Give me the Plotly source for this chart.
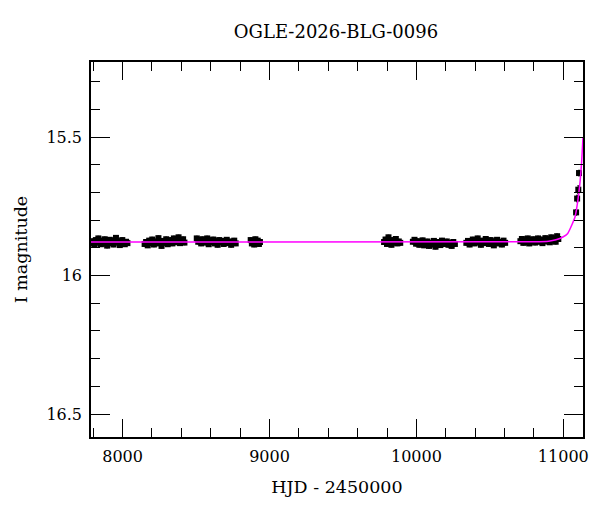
import plotly.graph_objects as go

title_text = "OGLE-2026-BLG-0096"
x_title = "HJD - 2450000"
y_title = "I magnitude"

# observing seasons (HJD - 2450000, I mag)
x1 = [7792, 7801, 7809, 7818, 7826, 7835, 7843, 7852, 7860, 7869, 7878, 7886, 7895, 7903, 7912, 7920, 7929, 7938, 7946, 7955, 7964, 7972, 7981, 7990, 7998, 8007, 8015, 8024, 8033]
m1 = [15.884, 15.876, 15.889, 15.872, 15.881, 15.866, 15.878, 15.887, 15.874, 15.882, 15.869, 15.885, 15.892, 15.877, 15.871, 15.883, 15.879, 15.888, 15.873, 15.864, 15.881, 15.876, 15.890, 15.884, 15.872, 15.880, 15.887, 15.878, 15.883]
x2 = [8150, 8160, 8171, 8181, 8192, 8202, 8213, 8223, 8234, 8244, 8255, 8265, 8276, 8286, 8297, 8307, 8318, 8328, 8339, 8349, 8360, 8370, 8381, 8391, 8402, 8412, 8421]
m2 = [15.886, 15.879, 15.891, 15.874, 15.883, 15.870, 15.888, 15.877, 15.884, 15.865, 15.880, 15.893, 15.875, 15.882, 15.869, 15.887, 15.878, 15.872, 15.884, 15.866, 15.880, 15.874, 15.862, 15.883, 15.876, 15.869, 15.881]
x3 = [8505, 8515, 8525, 8535, 8545, 8556, 8566, 8576, 8586, 8596, 8607, 8617, 8627, 8637, 8647, 8658, 8668, 8678, 8688, 8698, 8709, 8719, 8729, 8739, 8749, 8760, 8770]
m3 = [15.866, 15.878, 15.871, 15.884, 15.869, 15.875, 15.881, 15.866, 15.887, 15.873, 15.879, 15.870, 15.884, 15.876, 15.889, 15.872, 15.880, 15.875, 15.886, 15.878, 15.871, 15.883, 15.877, 15.889, 15.880, 15.874, 15.884]
x4 = [8872, 8880, 8888, 8896, 8904, 8912, 8920, 8928, 8935]
m4 = [15.872, 15.884, 15.876, 15.888, 15.869, 15.880, 15.874, 15.886, 15.879]
x5 = [9780, 9790, 9800, 9810, 9820, 9830, 9840, 9850, 9860, 9870, 9880, 9890]
m5 = [15.879, 15.870, 15.886, 15.862, 15.876, 15.889, 15.872, 15.881, 15.868, 15.884, 15.877, 15.882]
x6 = [9976, 9987, 9998, 10009, 10020, 10031, 10042, 10053, 10064, 10075, 10086, 10097, 10108, 10119, 10130, 10141, 10152, 10163, 10174, 10185, 10196, 10207, 10218, 10229, 10240, 10251, 10262]
m6 = [15.878, 15.871, 15.885, 15.876, 15.889, 15.880, 15.873, 15.891, 15.884, 15.877, 15.893, 15.882, 15.888, 15.875, 15.896, 15.884, 15.879, 15.890, 15.874, 15.886, 15.881, 15.877, 15.889, 15.883, 15.893, 15.879, 15.886]
x7 = [10340, 10351, 10362, 10373, 10384, 10395, 10406, 10417, 10428, 10439, 10450, 10461, 10472, 10483, 10494, 10505, 10516, 10527, 10538, 10549, 10560, 10571, 10582, 10593, 10604]
m7 = [15.882, 15.875, 15.888, 15.879, 15.870, 15.884, 15.877, 15.866, 15.881, 15.889, 15.874, 15.883, 15.868, 15.879, 15.886, 15.872, 15.880, 15.891, 15.876, 15.871, 15.884, 15.879, 15.888, 15.874, 15.882]
x8 = [10708, 10718, 10728, 10738, 10748, 10758, 10768, 10778, 10788, 10798, 10808, 10818, 10828, 10838, 10848, 10858, 10868, 10878, 10888, 10898, 10908, 10918, 10928, 10938, 10948, 10958, 10966]
m8 = [15.876, 15.868, 15.882, 15.873, 15.879, 15.866, 15.884, 15.871, 15.877, 15.869, 15.881, 15.874, 15.866, 15.878, 15.870, 15.883, 15.873, 15.865, 15.877, 15.869, 15.880, 15.862, 15.874, 15.866, 15.878, 15.858, 15.868]
x9 = [11087, 11094, 11102, 11107]
m9 = [15.772, 15.722, 15.690, 15.630]
err_base = 0.008
e9 = [0.010, 0.012, 0.014, 0.010]

# model light curve
model_x = [7785, 10800, 10900, 10950, 11000, 11030, 11060, 11080, 11100, 11115, 11125, 11134]
model_m = [15.879, 15.878, 15.876, 15.871, 15.860, 15.848, 15.815, 15.788, 15.725, 15.656, 15.587, 15.500]

x_range = [7785, 11134]
y_range = [16.583, 15.229]
x_ticks = [8000, 9000, 10000, 11000]
x_ticklabels = ["8000", "9000", "10000", "11000"]
y_ticks = [15.5, 16, 16.5]
y_ticklabels = ["15.5", "16", "16.5"]

xs = x1 + x2 + x3 + x4 + x5 + x6 + x7 + x8
ms = m1 + m2 + m3 + m4 + m5 + m6 + m7 + m8
es = [err_base] * len(xs)
xs = xs + x9
ms = ms + m9
es = es + e9

font_family = "DejaVu Serif"

fig = go.Figure()
fig.add_trace(go.Scatter(
    x=xs, y=ms, mode="markers",
    marker=dict(symbol="square", size=6, color="black"),
    error_y=dict(type="data", array=es, visible=True, color="black", thickness=1, width=1),
    showlegend=False, hoverinfo="skip"))
fig.add_trace(go.Scatter(
    x=model_x, y=model_m, mode="lines",
    line=dict(color="#ff00ff", width=1.5, shape="spline", smoothing=0.6),
    showlegend=False, hoverinfo="skip"))

axis_common = dict(
    showgrid=False, zeroline=False, showline=True, linecolor="black", linewidth=1.5,
    mirror="ticks", ticks="inside", tickcolor="black", tickwidth=1,
    tickfont=dict(family=font_family, size=16, color="black"),
    ticklabelstandoff=4,
)

fig.update_xaxes(
    range=x_range, tickvals=x_ticks, ticktext=x_ticklabels, ticklen=18,
    title=dict(text=x_title, font=dict(family=font_family, size=17.5, color="black"), standoff=16),
    minor=dict(dtick=200, tick0=0, ticklen=9, tickcolor="black", ticks="inside", showgrid=False),
    **axis_common)
fig.update_yaxes(
    range=y_range, tickvals=y_ticks, ticktext=y_ticklabels, ticklen=19,
    title=dict(text=y_title, font=dict(family=font_family, size=17.5, color="black"), standoff=14),
    minor=dict(dtick=0.1, tick0=0, ticklen=9, tickcolor="black", ticks="inside", showgrid=False),
    **axis_common)

fig.update_layout(
    width=592, height=504,
    margin=dict(l=80, r=13, t=54, b=75),
    paper_bgcolor="white", plot_bgcolor="white",
    title=dict(text=title_text, x=0.554, xanchor="center", y=1 - 24 / 504, yanchor="middle",
               yref="container", font=dict(family=font_family, size=18, color="black")),
)

fig.write_html("out.html")
